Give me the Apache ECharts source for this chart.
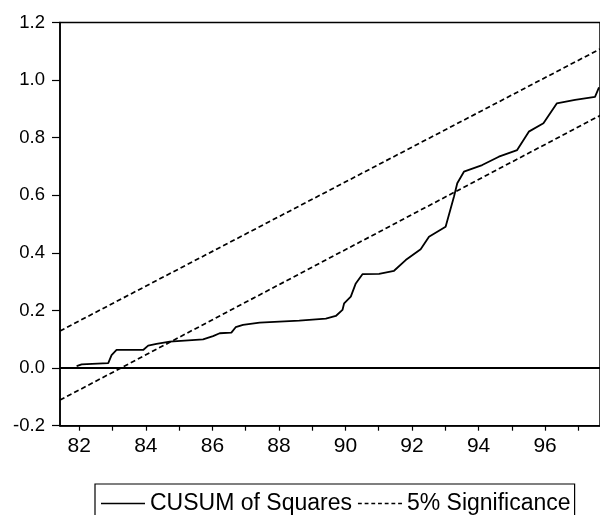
<!DOCTYPE html>
<html><head><meta charset="utf-8">
<script src="https://cdn.jsdelivr.net/npm/echarts@6/dist/echarts.min.js"></script>
<style>html,body{margin:0;padding:0;background:#fff}#c{width:600px;height:515px}</style>
</head><body><div id="c"></div>
<script>
// CUSUM of squares path (year, value)
const cusumX = [81.92, 82.07, 82.87, 82.97, 83.12, 83.92, 84.07, 84.32, 84.72, 85.72, 86.02, 86.22, 86.57, 86.70, 86.92, 87.42, 88.61, 89.41, 89.71, 89.91, 89.96, 90.16, 90.31, 90.51, 91.01, 91.46, 91.81, 92.26, 92.51, 93.01, 93.26, 93.36, 93.56, 94.11, 94.61, 95.16, 95.51, 95.95, 96.35, 96.90, 97.50, 97.62];
const cusumY = [0.007, 0.013, 0.017, 0.045, 0.063, 0.063, 0.078, 0.084, 0.092, 0.100, 0.111, 0.121, 0.123, 0.142, 0.150, 0.158, 0.165, 0.172, 0.181, 0.202, 0.225, 0.248, 0.294, 0.326, 0.327, 0.338, 0.375, 0.413, 0.456, 0.491, 0.595, 0.642, 0.682, 0.705, 0.734, 0.757, 0.821, 0.850, 0.919, 0.931, 0.942, 0.975];
// 5% significance bounds (end points)
const boundX = [81.42, 97.65];
const upperBound = [0.129, 1.108];
const lowerBound = [-0.111, 0.877];
// axis ticks / labels
const xTickValues = [82, 83, 84, 85, 86, 87, 88, 89, 90, 91, 92, 93, 94, 95, 96, 97];
const xLabelValues = [82, 84, 86, 88, 90, 92, 94, 96];
const yMin = -0.2, yMax = 1.2, yStep = 0.2;

const zip = (xs, ys) => xs.map((x, i) => [x, ys[i]]);
const FONT = "'Liberation Sans', Arial, Helvetica, sans-serif";

// legend icons: solid line and short dashes
const solidIcon = 'path://M0,0h44v1.6h-44z';
let dashPath = '';
for (let x = 0; x < 44; x += 7) dashPath += 'M' + x + ',0h4v1.6h-4z';
const dashIcon = 'path://' + dashPath;

const chart = echarts.init(document.getElementById('c'), null, {renderer: 'canvas'});
chart.setOption({
  animation: false,
  backgroundColor: '#fff',
  grid: {left: 60, right: -2, top: 22.5, bottom: 89.3, show: true, borderColor: '#000', borderWidth: 1.5},
  xAxis: {
    type: 'value', min: 81.42, max: 97.65,
    axisLine: {show: true, onZero: false, lineStyle: {color: '#000', width: 1.5}},
    axisTick: {show: true, inside: false, length: 5, customValues: xTickValues, lineStyle: {color: '#000', width: 1.2}},
    axisLabel: {customValues: xLabelValues, margin: 10, color: '#000', fontSize: 21, fontFamily: FONT,
      formatter: v => String(Math.round(v))},
    splitLine: {show: false}
  },
  yAxis: {
    type: 'value', min: yMin, max: yMax, interval: yStep,
    axisLine: {show: true, lineStyle: {color: '#000', width: 1.5}},
    axisTick: {show: true, length: 8, lineStyle: {color: '#000', width: 1.2}},
    axisLabel: {margin: 15, color: '#000', fontSize: 18.5, fontFamily: FONT,
      formatter: v => v.toFixed(1)},
    splitLine: {show: false}
  },
  legend: {
    left: 95, top: 484,
    padding: [8, 4, 12, 6],
    borderColor: '#000', borderWidth: 1.2,
    itemGap: 6, itemWidth: 44, itemHeight: 1.6,
    textStyle: {color: '#000', fontSize: 23, fontFamily: FONT},
    data: [
      {name: 'CUSUM of Squares', icon: solidIcon, itemStyle: {color: '#000'}},
      {name: '5% Significance', icon: dashIcon, itemStyle: {color: '#000'}}
    ]
  },
  series: [
    {
      name: 'CUSUM of Squares', type: 'line', symbol: 'none', showSymbol: false,
      data: zip(cusumX, cusumY),
      lineStyle: {color: '#000', width: 1.8},
      itemStyle: {color: '#000'},
      markLine: {
        silent: true, symbol: 'none', label: {show: false},
        lineStyle: {color: '#000', width: 2, type: 'solid'},
        data: [{yAxis: 0}]
      },
      z: 3
    },
    {
      name: '5% Significance', type: 'line', symbol: 'none', showSymbol: false,
      data: zip(boundX, upperBound),
      lineStyle: {color: '#000', width: 1.7, type: [5, 3]},
      itemStyle: {color: '#000'}
    },
    {
      name: '5% Significance', type: 'line', symbol: 'none', showSymbol: false,
      data: zip(boundX, lowerBound),
      lineStyle: {color: '#000', width: 1.7, type: [5, 3]},
      itemStyle: {color: '#000'}
    }
  ]
});
</script>
</body></html>
